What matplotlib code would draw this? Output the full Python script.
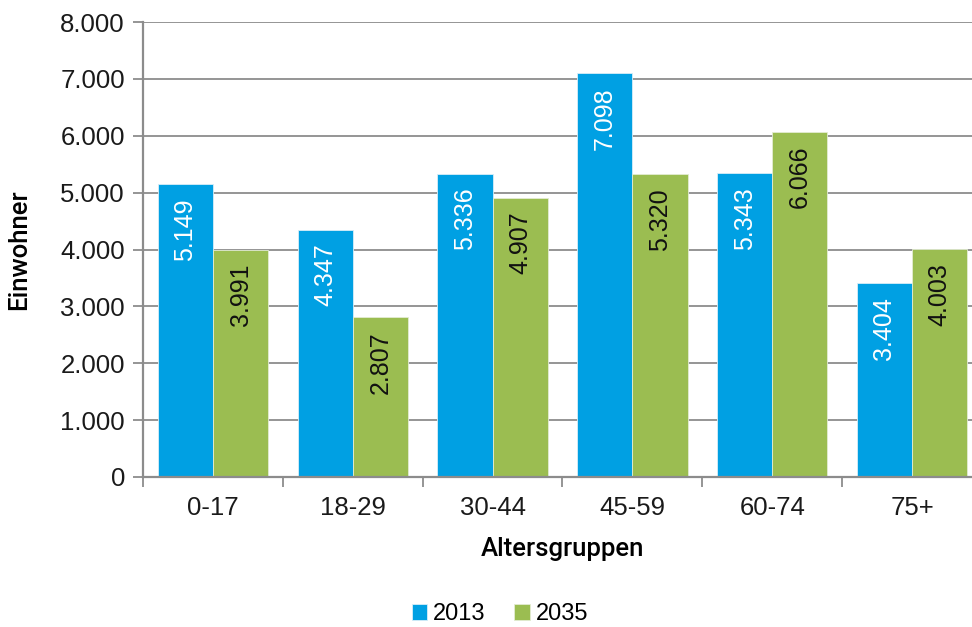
import matplotlib
matplotlib.use("Agg")
import matplotlib.pyplot as plt
import numpy as np

categories = ["0-17", "18-29", "30-44", "45-59", "60-74", "75+"]
values_2013 = [5149, 4347, 5336, 7098, 5343, 3404]
values_2035 = [3991, 2807, 4907, 5320, 6066, 4003]
series_names = ["2013", "2035"]
y_ticks = [0, 1000, 2000, 3000, 4000, 5000, 6000, 7000, 8000]

BLUE = "#00a0e3"
GREEN = "#9bbd51"
GRID = "#8c8c8c"

plt.rcParams["font.family"] = ["Liberation Sans", "DejaVu Sans"]

def fmt(v):
    return f"{v:,}".replace(",", ".")

fig = plt.figure(figsize=(9.72, 6.27), dpi=100)
ax = fig.add_axes([143 / 972, 1 - 477 / 627, 839 / 972, (477 - 22) / 627])

x = np.arange(len(categories))
w = 0.395
b1 = ax.bar(x - w / 2, values_2013, w, color=BLUE, edgecolor="#d8eef8",
            linewidth=0.6, label=series_names[0], zorder=3)
b2 = ax.bar(x + w / 2, values_2035, w, color=GREEN, edgecolor="#e3ecd3",
            linewidth=0.6, label=series_names[1], zorder=3)

for bars, vals, col in ((b1, values_2013, "white"), (b2, values_2035, "#111111")):
    for r, v in zip(bars, vals):
        ax.annotate(fmt(v), (r.get_x() + r.get_width() / 2, v),
                    xytext=(0, -10), textcoords="offset points",
                    rotation=90, ha="center", va="top", color=col,
                    fontsize=18, zorder=4)

ax.set_xlim(-0.5, len(categories) - 0.5)
ax.set_ylim(0, 8000)
ax.set_yticks(y_ticks)
ax.set_yticklabels([fmt(t) for t in y_ticks])
ax.set_xticks(x)
ax.set_xticklabels(categories)
ax.set_xticks(np.arange(len(categories) + 1) - 0.5, minor=True)
ax.tick_params(axis="x", which="major", length=0, pad=14, labelsize=18.5, colors="#1a1a1a")
ax.tick_params(axis="x", which="minor", length=7, width=1.3, color=GRID)
ax.tick_params(axis="y", length=7, width=1.3, color=GRID, labelsize=18.5,
               labelcolor="#1a1a1a", pad=6)

ax.grid(axis="y", color=GRID, linewidth=1.3, zorder=0)
for side in ("top", "right"):
    ax.spines[side].set_visible(False)
for side in ("left", "bottom"):
    ax.spines[side].set_color(GRID)
    ax.spines[side].set_linewidth(1.6)
ax.spines["bottom"].set_zorder(5)

label_font = dict(fontsize=18.5, family=["Roboto", "DejaVu Sans"],
                  fontweight="medium", color="black")
ax.set_ylabel("Einwohner", **label_font)
ax.set_xlabel("Altersgruppen", labelpad=12, **label_font)
ax.yaxis.set_label_coords(-112 / 839, 0.5)

fig.legend(handles=[b1, b2], labels=series_names, loc="center",
           bbox_to_anchor=(500 / 972, 1 - 614 / 627), ncol=2, frameon=False,
           fontsize=17, handlelength=0.65, handleheight=0.65,
           handletextpad=0.25, columnspacing=1.2)

fig.savefig("out.png", dpi=100)
